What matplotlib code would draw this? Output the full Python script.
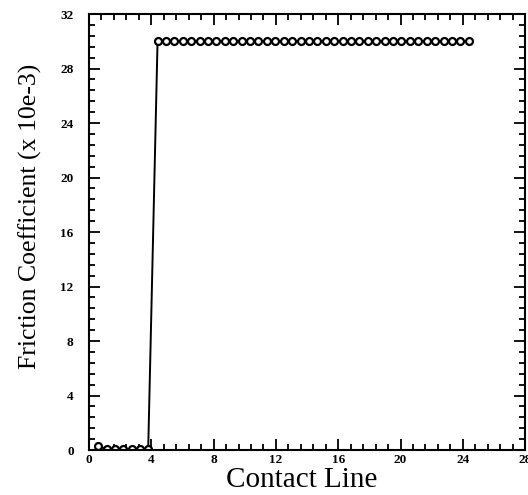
import matplotlib
matplotlib.use('Agg')
import matplotlib.pyplot as plt
from matplotlib.ticker import MultipleLocator

# contact line position vs friction coefficient (x 10e-3)
contact_line = [0.6, 1.13, 1.66, 2.2, 2.73, 3.26, 3.8,
                4.4, 4.94, 5.48, 6.02, 6.56, 7.1, 7.64, 8.18, 8.72, 9.26,
                9.8, 10.34, 10.88, 11.42, 11.96, 12.5, 13.04, 13.58, 14.12, 14.66,
                15.2, 15.74, 16.28, 16.82, 17.36, 17.9, 18.44, 18.98, 19.52, 20.06,
                20.6, 21.14, 21.68, 22.22, 22.76, 23.3, 23.84, 24.38]
friction = [0.3, 0.05, 0.05, 0.05, 0.05, 0.05, 0.1] + [30.0] * 38

plt.rcParams['font.family'] = 'Liberation Serif'
fig = plt.figure(figsize=(5.28, 4.95), dpi=100)
ax = fig.add_axes([0.1686, 0.0909, 0.826, 0.8808])

ax.plot(contact_line, friction, color='black', lw=1.4, marker='o', ms=5,
        mfc='white', mec='black', mew=1.6)

ax.set_xlim(0, 28)
ax.set_ylim(0, 32)
ax.xaxis.set_major_locator(MultipleLocator(4))
ax.xaxis.set_minor_locator(MultipleLocator(0.8))
ax.yaxis.set_major_locator(MultipleLocator(4))
ax.yaxis.set_minor_locator(MultipleLocator(0.8))
ax.tick_params(which='both', direction='in', top=True, right=True, width=1.3)
ax.tick_params(which='major', length=8, labelsize=9.5)
ax.tick_params(which='minor', length=4.5)
ax.tick_params(axis='x', which='major', pad=3)
ax.tick_params(axis='y', which='major', pad=11)
for lab in ax.get_xticklabels() + ax.get_yticklabels():
    lab.set_fontweight('bold')
for s in ax.spines.values():
    s.set_linewidth(1.5)

ax.set_xlabel('Contact Line', fontsize=21)
ax.set_ylabel('Friction Coefficient (x 10e-3)', fontsize=18.5)
ax.xaxis.set_label_coords(0.487, -0.04)
ax.yaxis.set_label_coords(-0.108, 0.535)

fig.savefig('out.png', dpi=100)
